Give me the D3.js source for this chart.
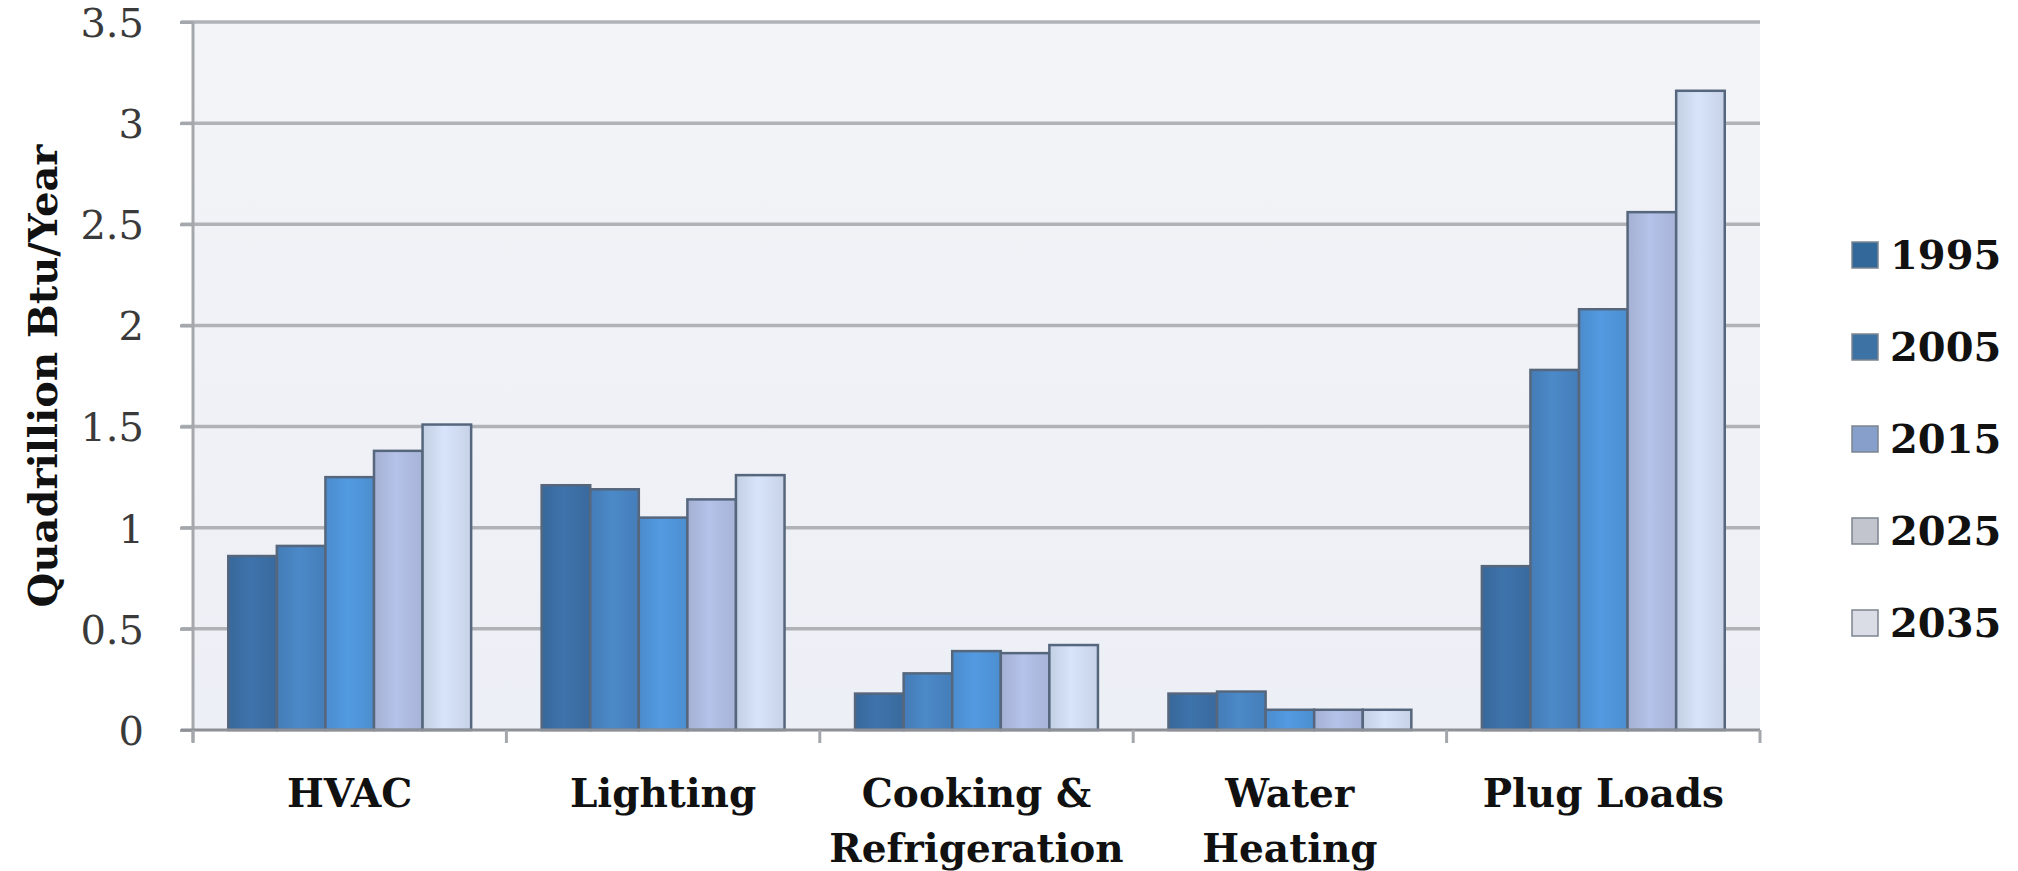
<!DOCTYPE html>
<html>
<head>
<meta charset="utf-8">
<script src="https://cdn.jsdelivr.net/npm/d3@7"></script>
<style>
  html, body { margin: 0; padding: 0; background: #ffffff; }
  svg { display: block; }
</style>
</head>
<body>
<svg id="chart" width="2018" height="871"></svg>
<script>
// End-use categories
const categories = ["HVAC", "Lighting", "Cooking & Refrigeration", "Water Heating", "Plug Loads"];
// Category labels split over lines
const categoryLines = [["HVAC"], ["Lighting"], ["Cooking &", "Refrigeration"], ["Water", "Heating"], ["Plug Loads"]];
// Years shown in the legend
const years = ["1995", "2005", "2015", "2025", "2035"];
// Energy use per category, quadrillion Btu per year
const v1995 = [0.86, 1.21, 0.18, 0.18, 0.81];
const v2005 = [0.91, 1.19, 0.28, 0.19, 1.78];
const v2015 = [1.25, 1.05, 0.39, 0.10, 2.08];
const v2025 = [1.38, 1.14, 0.38, 0.10, 2.56];
const v2035 = [1.51, 1.26, 0.42, 0.10, 3.16];
const seriesValues = [v1995, v2005, v2015, v2025, v2035];
// Value axis ticks
const yTicks = [0, 0.5, 1, 1.5, 2, 2.5, 3, 3.5];

const barColors = ["#3b6ea4", "#4883c0", "#4f94d8", "#adbadf", "#cedaef"];
const swatchColors = ["#33699a", "#3d72a4", "#86a0cb", "#c2c5cd", "#dadde5"];

const svg = d3.select("#chart");
const plot = { left: 193, right: 1760, top: 22, bottom: 730 };

const x0 = d3.scaleBand()
  .domain(categories)
  .range([plot.left, plot.right])
  .paddingInner(0.225)
  .paddingOuter(0.1125);
const x1 = d3.scaleBand()
  .domain(years)
  .range([0, x0.bandwidth()])
  .padding(0);
const y = d3.scaleLinear().domain([0, 3.5]).range([plot.bottom, plot.top]);

// Gradients for the bar faces
const defs = svg.append("defs");
barColors.forEach((c, i) => {
  const g = defs.append("linearGradient")
    .attr("id", "bar" + i).attr("x1", "0").attr("x2", "1").attr("y1", "0").attr("y2", "0");
  const base = d3.color(c);
  g.append("stop").attr("offset", "0%").attr("stop-color", base.darker(0.15));
  g.append("stop").attr("offset", "45%").attr("stop-color", base.brighter(0.12));
  g.append("stop").attr("offset", "100%").attr("stop-color", base.darker(0.1));
});
const bg = defs.append("linearGradient").attr("id", "wall")
  .attr("x1", "0").attr("x2", "0").attr("y1", "0").attr("y2", "1");
bg.append("stop").attr("offset", "0%").attr("stop-color", "#f3f4f8");
bg.append("stop").attr("offset", "100%").attr("stop-color", "#eceff5");

// Plot wall
svg.append("rect")
  .attr("x", plot.left).attr("y", plot.top)
  .attr("width", plot.right - plot.left).attr("height", plot.bottom - plot.top)
  .attr("fill", "url(#wall)");

// Horizontal gridlines
svg.append("g")
  .selectAll("line")
  .data(yTicks.filter(d => d > 0))
  .join("line")
  .attr("x1", plot.left - 12).attr("x2", plot.right)
  .attr("y1", d => y(d)).attr("y2", d => y(d))
  .attr("stroke", "#afb2b7").attr("stroke-width", 3.5);

// Value axis
const yAxis = d3.axisLeft(y).tickValues(yTicks).tickSize(13).tickPadding(36)
  .tickFormat(d3.format("~g"));
const gy = svg.append("g").attr("transform", `translate(${plot.left},0)`).call(yAxis);
gy.select(".domain").attr("stroke", "#a4a7ab").attr("stroke-width", 3)
  .attr("d", `M0,${plot.top}V${plot.bottom + 12}`);
gy.selectAll(".tick line").attr("stroke", "#a4a7ab").attr("stroke-width", 3);
gy.selectAll(".tick text")
  .attr("font-family", "'DejaVu Serif', serif")
  .attr("font-size", 40)
  .attr("fill", "#3a3a3a")
  .attr("dy", "0.36em");

// Bars
const groups = svg.append("g")
  .selectAll("g")
  .data(categories)
  .join("g")
  .attr("transform", d => `translate(${x0(d)},0)`);
groups.selectAll("rect")
  .data((d, ci) => years.map((yr, si) => ({ yr, si, value: seriesValues[si][ci] })))
  .join("rect")
  .attr("x", d => x1(d.yr))
  .attr("y", d => y(d.value))
  .attr("width", x1.bandwidth())
  .attr("height", d => y(0) - y(d.value))
  .attr("fill", d => `url(#bar${d.si})`)
  .attr("stroke", "#56677d")
  .attr("stroke-width", 2.5);

// Category axis
const xAxis = d3.axisBottom(x0).tickSize(0).tickFormat("");
const gx = svg.append("g").attr("transform", `translate(0,${plot.bottom})`).call(xAxis);
gx.select(".domain").attr("stroke", "#8d9096").attr("stroke-width", 3)
  .attr("d", `M${plot.left - 12},0H${plot.right}`);
// Boundary ticks between categories
const step = x0.step();
const boundaries = d3.range(categories.length + 1).map(i => plot.left + i * step);
gx.selectAll(".bound")
  .data(boundaries)
  .join("line")
  .attr("class", "bound")
  .attr("x1", d => d).attr("x2", d => d)
  .attr("y1", 0).attr("y2", 13)
  .attr("stroke", "#a4a7ab").attr("stroke-width", 3);

// Category labels
const labels = svg.append("g")
  .selectAll("text")
  .data(categories)
  .join("text")
  .attr("x", d => x0(d) + x0.bandwidth() / 2)
  .attr("y", 807)
  .attr("text-anchor", "middle")
  .attr("font-family", "'DejaVu Serif', serif")
  .attr("font-weight", "bold")
  .attr("font-size", 39)
  .attr("fill", "#111");
labels.selectAll("tspan")
  .data((d, i) => categoryLines[i])
  .join("tspan")
  .attr("x", function () { return d3.select(this.parentNode).attr("x"); })
  .attr("dy", (d, i) => i === 0 ? 0 : 55)
  .text(d => d);

// Value axis title
svg.append("text")
  .attr("transform", "translate(57,376) rotate(-90)")
  .attr("text-anchor", "middle")
  .attr("font-family", "'DejaVu Serif', serif")
  .attr("font-weight", "bold")
  .attr("font-size", 40)
  .attr("fill", "#111")
  .text("Quadrillion Btu/Year");

// Legend
const legend = svg.append("g")
  .selectAll("g")
  .data(years)
  .join("g")
  .attr("transform", (d, i) => `translate(1852,${255 + i * 92})`);
legend.append("rect")
  .attr("x", 0).attr("y", -13)
  .attr("width", 26).attr("height", 26)
  .attr("fill", (d, i) => swatchColors[i])
  .attr("stroke", "#7d8590").attr("stroke-width", 1.5);
legend.append("text")
  .attr("x", 38).attr("y", 0).attr("dy", "0.36em")
  .attr("font-family", "'DejaVu Serif', serif")
  .attr("font-weight", "bold")
  .attr("font-size", 40)
  .attr("fill", "#111")
  .text(d => d);
</script>
</body>
</html>
